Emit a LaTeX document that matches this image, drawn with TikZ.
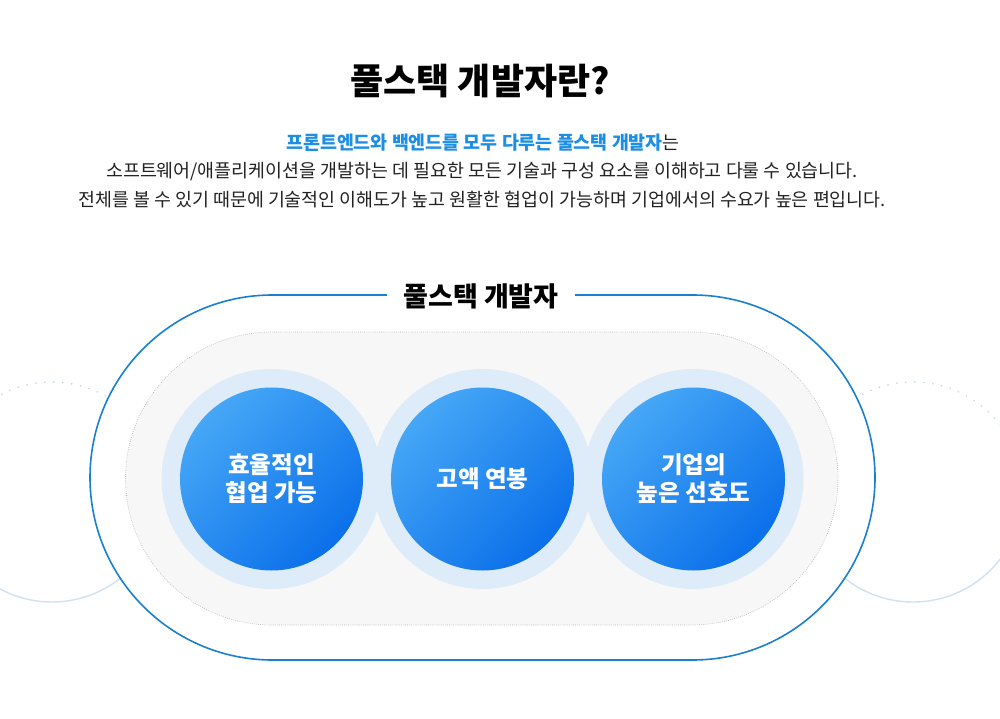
\documentclass[tikz,border=0pt]{standalone}
\usepackage{fontspec}
\setmainfont{Noto Sans CJK KR}
\newfontfamily\kr{Noto Sans CJK KR}
\definecolor{pillblue}{HTML}{1A7FD0}
\definecolor{txtblue}{HTML}{1C8EE3}
\definecolor{txtdark}{HTML}{222222}
\definecolor{halo}{HTML}{DEECF9}
\definecolor{balllight}{HTML}{46A7F6}
\definecolor{ballmid}{HTML}{1F87F0}
\definecolor{balldark}{HTML}{0B70EA}
\definecolor{innerfill}{HTML}{F7F7F8}
\definecolor{innerline}{HTML}{B4B4B4}
\definecolor{sidedot}{HTML}{BFD3E8}
\definecolor{sideline}{HTML}{D0E2F1}
\begin{document}
\begin{tikzpicture}[x=1pt,y=-1pt,
  haloc/.style={circle,fill=halo,minimum size=220pt,inner sep=0pt},
  ballc/.style={circle,minimum size=183pt,inner sep=0pt,top color=balllight,middle color=ballmid,bottom color=balldark,shading angle=45,
     text=white,font=\kr\bfseries\fontsize{23.5}{28}\selectfont,align=center},
  sub/.style={font=\kr\fontsize{18.4}{22}\selectfont,text=txtdark,inner sep=0pt}
]
\useasboundingbox[fill=white] (0,0) rectangle (1000,719);
% side circles
\draw[sidedot,line width=1.8pt,line cap=round,dash pattern=on 0pt off 9pt] (162,492) arc(0:-180:110);
\draw[sideline,line width=1.4pt] (162,492) arc(0:180:110);
\draw[sidedot,line width=1.8pt,line cap=round,dash pattern=on 0pt off 9pt] (1023,492) arc(0:-180:110);
\draw[sideline,line width=1.4pt] (1023,492) arc(0:180:110);
% outer pill
\draw[pillblue,line width=1.6pt,fill=white] (272.5,295) -- (692.5,295) arc(-90:90:182.5) -- (272.5,660) arc(90:270:182.5) -- cycle;
% inner pill
\draw[innerline,fill=innerfill,line width=0.6pt,dash pattern=on 0.7pt off 1.4pt] (272,332) -- (691.5,332) arc(-90:90:146.5) -- (272,625) arc(90:270:146.5) -- cycle;
% halos
\node[haloc] (h1) at (271.5,479) {};
\node[haloc] (h2) at (482.5,479) {};
\node[haloc] (h3) at (693.5,479) {};
% balls
\node[ballc] (c1) at (271.5,479) {효율적인\\협업 가능};
\node[ballc] (c2) at (482.5,479) {고액 연봉};
\node[ballc] (c3) at (693.5,479) {기업의\\높은 선호도};
% pill label
\node[fill=white,inner xsep=16pt,inner ysep=4pt,font=\kr\bfseries\fontsize{27}{30}\selectfont,text=black] (lbl) at (481,296) {풀스택 개발자};
% title
\node[font=\kr\bfseries\fontsize{36}{40}\selectfont,text=black] (title) at (480,81) {풀스택 개발자란?};
% subtitle
\node[sub] (s1) at (483,143) {\textcolor{txtblue}{\bfseries 프론트엔드와 백엔드를 모두 다루는 풀스택 개발자}는};
\node[sub] (s2) at (482,172) {소프트웨어/애플리케이션을 개발하는 데 필요한 모든 기술과 구성 요소를 이해하고 다룰 수 있습니다.};
\node[sub] (s3) at (482,200) {전체를 볼 수 있기 때문에 기술적인 이해도가 높고 원활한 협업이 가능하며 기업에서의 수요가 높은 편입니다.};
\end{tikzpicture}
\end{document}
